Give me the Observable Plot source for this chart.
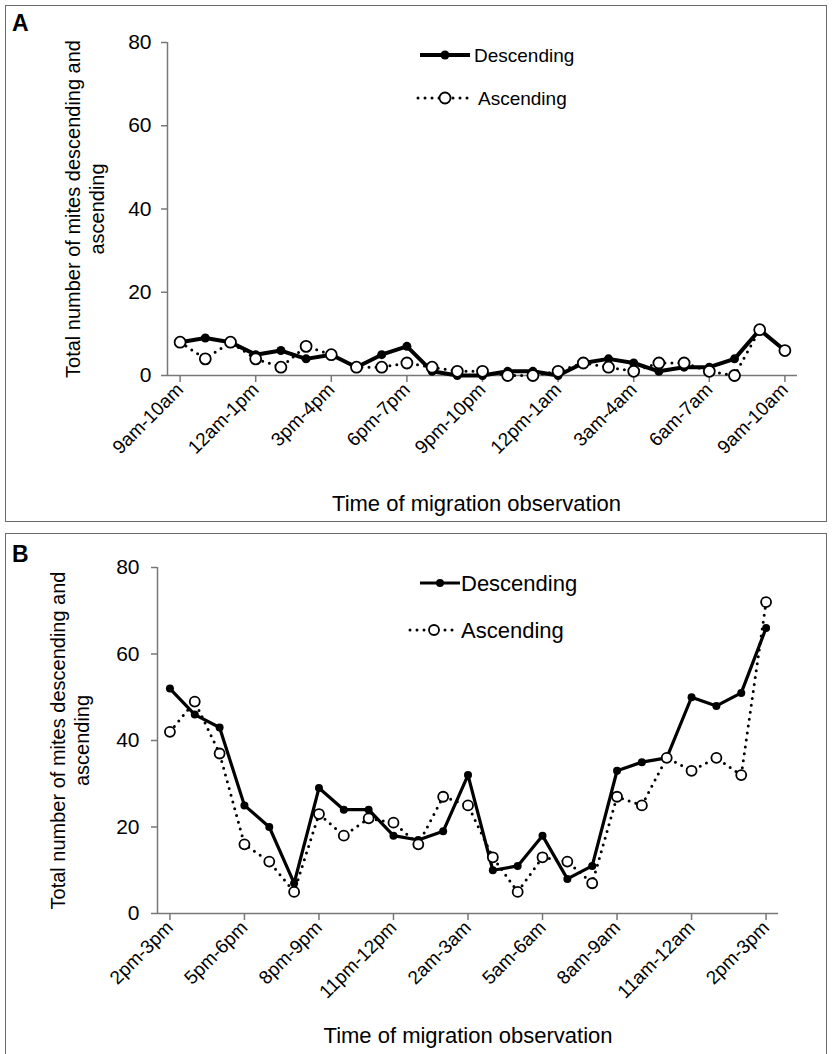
<!DOCTYPE html>
<html><head><meta charset="utf-8">
<script src="https://cdn.jsdelivr.net/npm/d3@7"></script>
<script src="https://cdn.jsdelivr.net/npm/@observablehq/plot@0.6"></script>
<style>
body{margin:0;background:#fff;font-family:"Liberation Sans",Arial,sans-serif;}
#page{position:relative;width:832px;height:1054px;overflow:hidden;background:#fff}
.box{position:absolute;border:1.5px solid #6a6a6a;box-sizing:border-box}
.plot{position:absolute;left:0}
.tag{position:absolute;font-weight:bold;font-size:23px;font-family:"Liberation Sans",Arial,sans-serif}
.legend{position:absolute;left:0;top:0}
</style></head><body><div id="page"></div>
<script>
// Panel A: hourly slots starting 9am-10am
const labelsA = ["9am-10am","10am-11am","11am-12am","12am-1pm","1pm-2pm","2pm-3pm","3pm-4pm","4pm-5pm","5pm-6pm","6pm-7pm","7pm-8pm","8pm-9pm","9pm-10pm","10pm-11pm","11pm-12pm","12pm-1am","1am-2am","2am-3am","3am-4am","4am-5am","5am-6am","6am-7am","7am-8am","8am-9am","9am-10am"];
const descendingA = [8,9,8,5,6,4,5,2,5,7,1,0,0,1,1,0,3,4,3,1,2,2,4,11,6];
const ascendingA  = [8,4,8,4,2,7,5,2,2,3,2,1,1,0,0,1,3,2,1,3,3,1,0,11,6];
// Panel B: hourly slots starting 2pm-3pm
const labelsB = ["2pm-3pm","3pm-4pm","4pm-5pm","5pm-6pm","6pm-7pm","7pm-8pm","8pm-9pm","9pm-10pm","10pm-11pm","11pm-12pm","12pm-1am","1am-2am","2am-3am","3am-4am","4am-5am","5am-6am","6am-7am","7am-8am","8am-9am","9am-10am","10am-11am","11am-12am","12am-1pm","1pm-2pm","2pm-3pm"];
const descendingB = [52,46,43,25,20,7,29,24,24,18,17,19,32,10,11,18,8,11,33,35,36,50,48,51,66];
const ascendingB  = [42,49,37,16,12,5,23,18,22,21,16,27,25,13,5,13,12,7,27,25,36,33,36,32,72];
const yTicks = [0,20,40,60,80];
const seriesNames = ["Descending","Ascending"];
const yTitle = "Total number of mites descending and\nascending";
const xTitle = "Time of migration observation";

const page = document.getElementById("page");

function panel(cfg){
  const rows = cfg.labels.map((l,i)=>({i, label:l, desc:cfg.desc[i], asc:cfg.asc[i]}));
  const ticks = d3.range(0, cfg.labels.length, 3);
  const axisColor = "#777";
  const chart = Plot.plot({
    width: 832, height: cfg.height,
    marginTop: cfg.mt, marginBottom: cfg.mb, marginLeft: cfg.ml, marginRight: cfg.mr,
    style: {fontFamily: '"Liberation Sans", Arial, sans-serif', background: "transparent", overflow: "visible"},
    x: {domain: [-0.5, cfg.labels.length - 0.5]},
    y: {domain: [0, 80]},
    marks: [
      Plot.ruleY([0], {stroke: axisColor, strokeWidth: 1.5}),
      Plot.ruleX([-0.5], {stroke: axisColor, strokeWidth: 1.5}),
      Plot.axisY({ticks: yTicks, tickSize: 6, tickPadding: cfg.ypad, fontSize: cfg.fsY, label: null, stroke: axisColor, strokeWidth: 1.5, fill: "black"}),
      Plot.axisX({ticks, tickSize: 7, tickPadding: 4, tickFormat: i => cfg.labels[i], tickRotate: -45, fontSize: cfg.fsTick, label: null, stroke: axisColor, strokeWidth: 1.5, fill: "black"}),
      Plot.line(rows, {x: "i", y: "desc", stroke: "black", strokeWidth: cfg.lw}),
      Plot.line(rows, {x: "i", y: "asc", stroke: "black", strokeWidth: cfg.dw, strokeDasharray: "0 7", strokeLinecap: "round"}),
      Plot.dot(rows, {x: "i", y: "desc", fill: "black", r: cfg.rf}),
      Plot.dot(rows, {x: "i", y: "asc", fill: "white", stroke: "black", strokeWidth: 1.8, r: cfg.ro}),
      Plot.text([yTitle], {frameAnchor: "left", text: d => d, rotate: -90, dx: cfg.ytDx, textAnchor: "middle", lineAnchor: "middle", lineHeight: 1.2, fontSize: cfg.fsYTitle, fill: "black"}),
      Plot.text([xTitle], {frameAnchor: "bottom", text: d => d, dy: cfg.xtDy, dx: cfg.xtDx, textAnchor: "middle", lineAnchor: "middle", fontSize: cfg.fsXTitle, fill: "black"})
    ]
  });
  chart.classList.add("plot");
  chart.style.top = cfg.top + "px";
  page.appendChild(chart);

  // legend
  const lg = cfg.legend;
  const ns = "http://www.w3.org/2000/svg";
  const svg = document.createElementNS(ns, "svg");
  svg.setAttribute("class","legend");
  svg.setAttribute("width", 832); svg.setAttribute("height", 600);
  svg.style.fontFamily = '"Liberation Sans", Arial, sans-serif';
  svg.innerHTML = `
    <line x1="${lg.x1}" x2="${lg.x2}" y1="${lg.y1}" y2="${lg.y1}" stroke="black" stroke-width="${cfg.lw}"/>
    <circle cx="${(lg.x1+lg.x2)/2}" cy="${lg.y1}" r="${cfg.rf}" fill="black"/>
    <text x="${lg.tx}" y="${lg.y1}" dy="0.35em" font-size="${lg.fs}">${seriesNames[0]}</text>
    <line x1="${lg.ax1}" x2="${lg.ax2}" y1="${lg.y2}" y2="${lg.y2}" stroke="black" stroke-width="${cfg.dw}" stroke-dasharray="0 7" stroke-linecap="round"/>
    <circle cx="${(lg.ax1+lg.ax2)/2}" cy="${lg.y2}" r="${cfg.ro}" fill="white" stroke="black" stroke-width="1.8"/>
    <text x="${lg.tx2}" y="${lg.y2}" dy="0.35em" font-size="${lg.fs}">${seriesNames[1]}</text>`;
  const wrap = document.createElement("div");
  wrap.style.position="absolute"; wrap.style.left="0"; wrap.style.top=cfg.top+"px";
  wrap.appendChild(svg);
  page.appendChild(wrap);
}

// boxes
function box(l,t,w,h){const b=document.createElement("div");b.className="box";b.style.left=l+"px";b.style.top=t+"px";b.style.width=w+"px";b.style.height=h+"px";page.appendChild(b);}
box(5,5,822,517);
box(5,533,822,540);

panel({labels: labelsA, desc: descendingA, asc: ascendingA, top: 0, height: 521,
  mt: 42, mb: 146, ml: 167, mr: 35, fsTick: 19, fsY: 21, ypad: 10, fsYTitle: 20, fsXTitle: 22, lw: 4, dw: 3, rf: 4.5, ro: 5.5,
  ytDx: -83, xtDy: 128, xtDx: -6,
  legend: {x1: 420, x2: 470, y1: 55, ax1: 418, ax2: 472, y2: 98, tx: 474, tx2: 478, fs: 19}});

panel({labels: labelsB, desc: descendingB, asc: ascendingB, top: 533, height: 521,
  mt: 34, mb: 141, ml: 157, mr: 54, fsTick: 19, fsY: 21, ypad: 12, fsYTitle: 20, fsXTitle: 22, lw: 3.2, dw: 3, rf: 4, ro: 5,
  ytDx: -88, xtDy: 122, xtDx: 0,
  legend: {x1: 420, x2: 460, y1: 50, ax1: 410, ax2: 458, y2: 97, tx: 461, tx2: 461, fs: 22}});

function tag(t,l,top){const d=document.createElement("div");d.className="tag";d.textContent=t;d.style.left=l+"px";d.style.top=top+"px";page.appendChild(d);}
tag("A",12,10);
tag("B",12,541);
</script></body></html>
